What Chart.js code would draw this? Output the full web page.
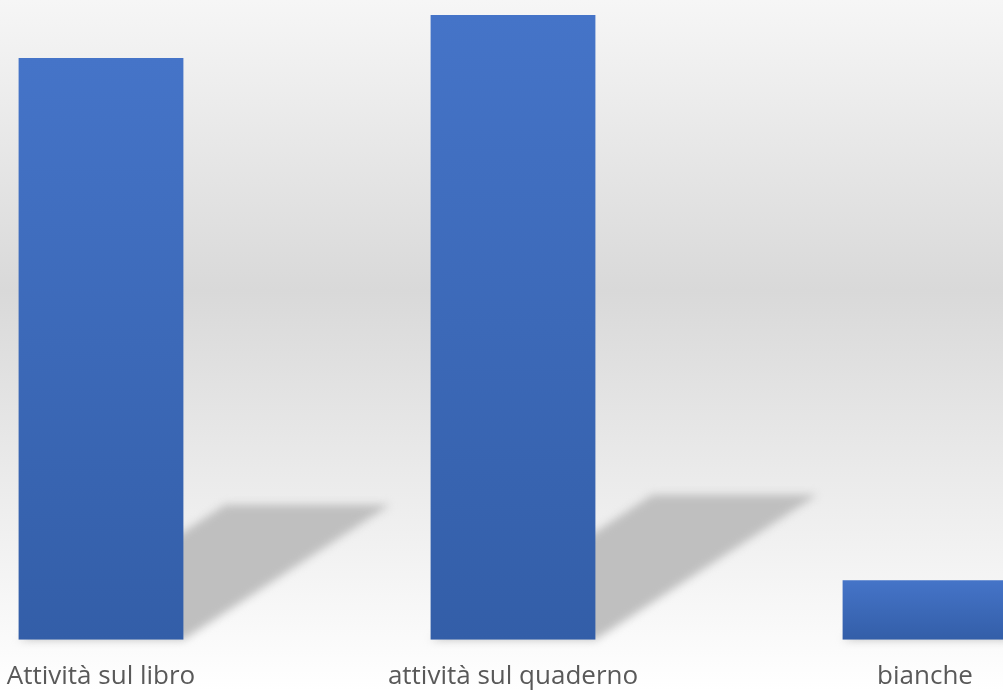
<!DOCTYPE html>
<html>
<head>
<meta charset="utf-8">
<script src="https://cdn.jsdelivr.net/npm/chart.js@4/dist/chart.umd.min.js"></script>
<style>
  html, body { margin: 0; padding: 0; width: 1003px; height: 691px; overflow: hidden; }
  body { background: linear-gradient(to bottom, #f6f6f6 0%, #d9d9d9 42%, #ffffff 100%); position: relative; }
  #c { position: absolute; left: -105px; top: 0; }
</style>
</head>
<body>
<canvas id="c" width="1236" height="713"></canvas>
<script>
const categories = ["Attività sul libro", "attività sul quaderno", "bianche"];
const values = [39.1, 42, 4];
const yMax = 43;

const shadowPlugin = {
  id: 'perspectiveShadow',
  beforeDatasetsDraw(chart) {
    const ctx = chart.ctx;
    const meta = chart.getDatasetMeta(0);
    ctx.save();
    ctx.filter = 'blur(4px)';
    ctx.fillStyle = '#bfbfbf';
    meta.data.forEach(el => {
      const p = el.getProps(['x', 'y', 'base', 'width'], true);
      const h = p.base - p.y;
      const left = p.x - p.width / 2, right = p.x + p.width / 2;
      const dx = h * 0.355, dy = h * 0.232;
      ctx.beginPath();
      ctx.moveTo(left, p.base);
      ctx.lineTo(right, p.base);
      ctx.lineTo(right + dx, p.base - dy);
      ctx.lineTo(left + dx, p.base - dy);
      ctx.closePath();
      ctx.fill();
    });
    ctx.restore();
  }
};

new Chart(document.getElementById('c'), {
  type: 'bar',
  data: {
    labels: categories,
    datasets: [{
      data: values,
      backgroundColor: (c) => {
        const chart = c.chart;
        const ys = chart.scales.y;
        if (!ys || c.type !== 'data') return '#4472C4';
        const top = ys.getPixelForValue(c.raw);
        const bot = ys.getPixelForValue(0);
        if (!isFinite(top) || !isFinite(bot) || top === bot) return '#4472C4';
        const g = chart.ctx.createLinearGradient(0, top, 0, bot);
        g.addColorStop(0, '#4574C8');
        g.addColorStop(1, '#335EA8');
        return g;
      },
      borderWidth: 0,
      categoryPercentage: 1,
      barPercentage: 0.4
    }]
  },
  options: {
    responsive: false,
    animation: false,
    devicePixelRatio: 1,
    layout: { padding: 0 },
    plugins: { legend: { display: false }, tooltip: { enabled: false } },
    scales: {
      x: {
        grid: { display: false, drawTicks: false },
        border: { display: false },
        ticks: {
          padding: 21,
          color: '#595959',
          font: { family: "'Open Sans'", size: 26, lineHeight: 1.2 }
        }
      },
      y: { display: false, min: 0, max: yMax }
    }
  },
  plugins: [shadowPlugin]
});
</script>
</body>
</html>
